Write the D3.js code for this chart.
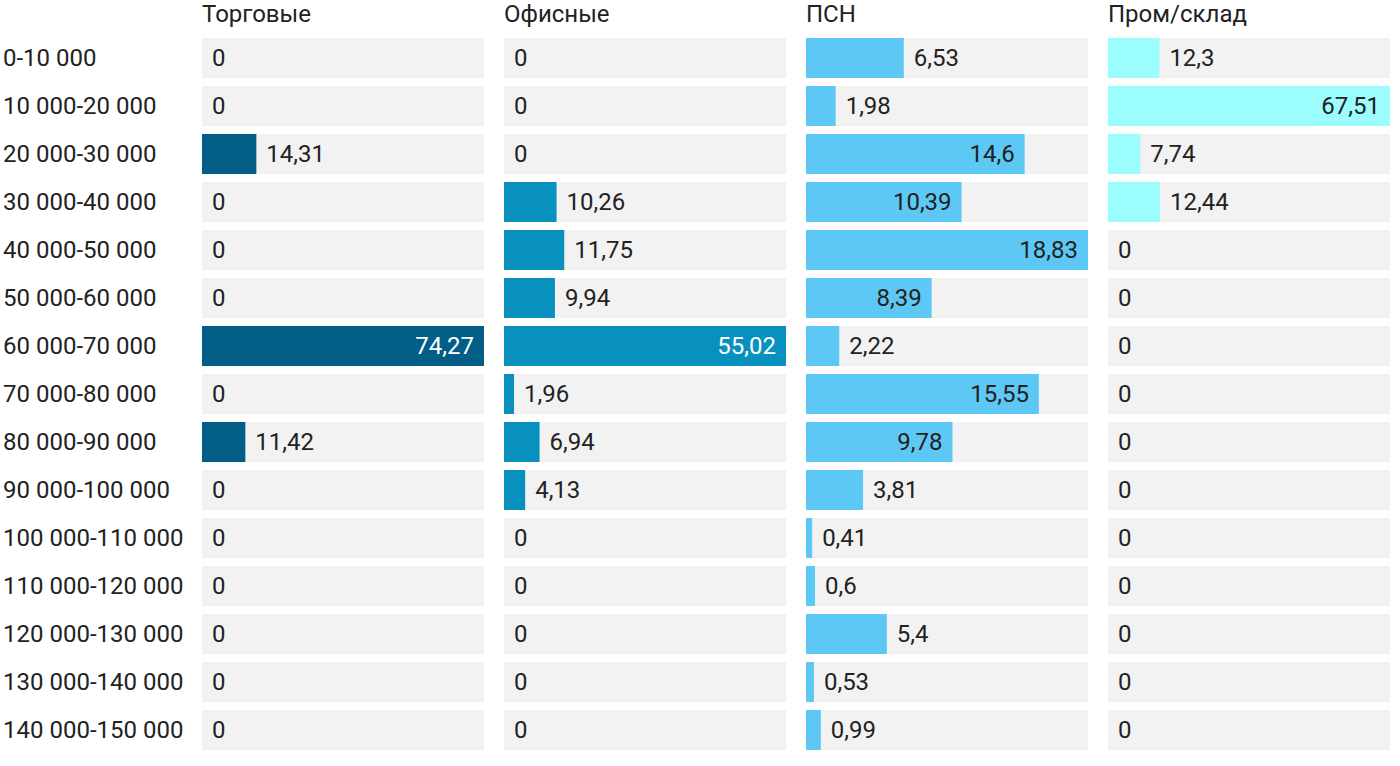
<!DOCTYPE html>
<html>
<head>
<meta charset="utf-8">
<script src="https://cdn.jsdelivr.net/npm/d3@7"></script>
<style>
body { margin: 0; background: #fff; }
text { font-family: Roboto, sans-serif; }
</style>
</head>
<body>
<div id="chart"></div>
<script>
var ranges = ['0-10 000', '10 000-20 000', '20 000-30 000', '30 000-40 000', '40 000-50 000',
	'50 000-60 000', '60 000-70 000', '70 000-80 000', '80 000-90 000', '90 000-100 000',
	'100 000-110 000', '110 000-120 000', '120 000-130 000', '130 000-140 000', '140 000-150 000']

var panels = ['Торговые', 'Офисные', 'ПСН', 'Пром/склад']

var torgovye = [0, 0, 14.31, 0, 0, 0, 74.27, 0, 11.42, 0, 0, 0, 0, 0, 0]
var ofisnye = [0, 0, 0, 10.26, 11.75, 9.94, 55.02, 1.96, 6.94, 4.13, 0, 0, 0, 0, 0]
var psn = [6.53, 1.98, 14.6, 10.39, 18.83, 8.39, 2.22, 15.55, 9.78, 3.81, 0.41, 0.6, 5.4, 0.53, 0.99]
var promsklad = [12.3, 67.51, 7.74, 12.44, 0, 0, 0, 0, 0, 0, 0, 0, 0, 0, 0]

var series = [torgovye, ofisnye, psn, promsklad]
var colors = ['#025d87', '#0891bf', '#5ec8f4', '#9cfdfe']
var labelInside = ['#fff', '#fff', '#222', '#222']

var width = 1400, height = 766
var margin = { top: 38, left: 202 }
var panelW = 282, panelGap = 20
var rowStep = 48, rowGap = 8

var svg = d3.select('#chart').append('svg')
	.attr('width', width)
	.attr('height', height)

var yScale = d3.scaleBand()
	.domain(ranges)
	.range([margin.top, margin.top + rowStep * ranges.length - rowGap])
	.paddingInner(rowGap / rowStep)
	.paddingOuter(0)

var fmt = function(v) { return String(v).replace('.', ',') }

// row labels
svg.selectAll('.row-label')
	.data(ranges)
	.enter().append('text')
	.attr('class', 'row-label')
	.attr('x', 3)
	.attr('y', function(d) { return yScale(d) + yScale.bandwidth() / 2 })
	.attr('dy', '0.35em')
	.style('font-size', '24px')
	.style('fill', '#222')
	.text(function(d) { return d })

panels.forEach(function(name, p) {
	var x0 = margin.left + p * (panelW + panelGap)
	var vals = series[p]
	var xScale = d3.scaleLinear()
		.domain([0, d3.max(vals)])
		.range([0, panelW])

	var g = svg.append('g').attr('transform', 'translate(' + x0 + ',0)')

	g.append('text')
		.attr('x', 0)
		.attr('y', 22)
		.style('font-size', '24px')
		.style('fill', '#222')
		.text(name)

	var rows = g.selectAll('.row')
		.data(vals)
		.enter().append('g')
		.attr('transform', function(d, i) { return 'translate(0,' + yScale(ranges[i]) + ')' })

	rows.append('rect')
		.attr('width', panelW)
		.attr('height', yScale.bandwidth())
		.attr('fill', '#f2f2f2')

	rows.append('rect')
		.attr('width', function(d) { return xScale(d) })
		.attr('height', yScale.bandwidth())
		.attr('fill', colors[p])

	rows.append('text')
		.attr('y', yScale.bandwidth() / 2)
		.attr('dy', '0.35em')
		.style('font-size', '24px')
		.each(function(d) {
			var w = xScale(d)
			var t = d3.select(this).text(fmt(d))
			if (w > 110) {
				t.attr('x', w - 10).attr('text-anchor', 'end').style('fill', labelInside[p])
			} else {
				t.attr('x', w + 10).attr('text-anchor', 'start').style('fill', '#222')
			}
		})
})
</script>
</body>
</html>
